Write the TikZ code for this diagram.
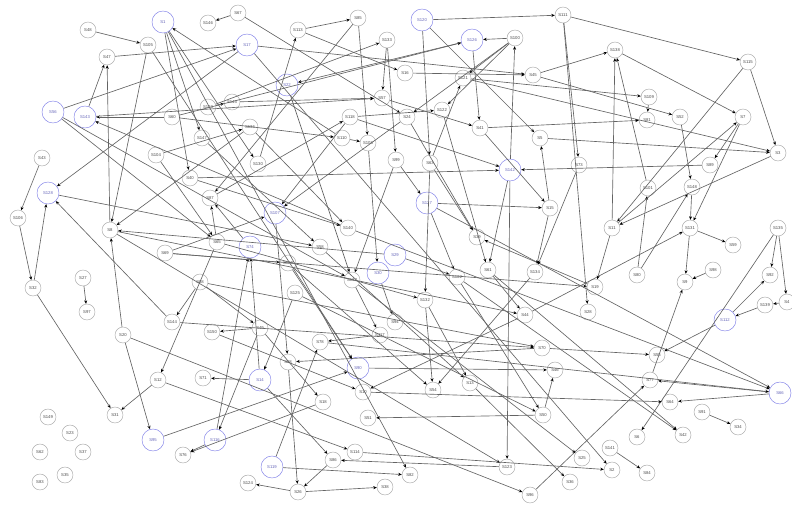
\documentclass[tikz,border=0pt]{standalone}
\usepackage{fontspec}
\setmainfont{Liberation Sans}
\usetikzlibrary{arrows.meta}
\definecolor{srcblue}{HTML}{8080E8}
\definecolor{linkgray}{HTML}{646464}

\begin{document}
\begin{tikzpicture}[
    x=0.03cm, y=-0.03cm,
    >={Stealth[length=3pt, width=2.6pt, color=black]},
    gn/.style={circle, draw=black!35, fill=white, text=black!70, minimum size=0.48cm, inner sep=0pt, font=\fontsize{3.6}{4}\selectfont},
    bn/.style={gn, draw=srcblue, text=srcblue!80!black, minimum size=0.66cm},
    lnk/.style={->, draw=linkgray, line width=0.55pt}
]
\useasboundingbox (0,0) rectangle (792,504);

% blue nodes
\foreach \n/\x/\y in {S1/163/22, S17/247/45, S22/287/85, S120/422/20, S126/472/40,
    S56/53/112, S143/85/117, S128/48/193, S107/275/213, S74/250/247,
    S127/427/203, S142/510/170, S29/395/255, S30/378/273, S112/725/320,
    S90/358/368, S14/260/380, S116/215/440, S95/153/440, S119/272/467, S66/780/393}
  \node[bn] (\n) at (\x,\y) {\n};

% grey nodes, top half
\foreach \n/\x/\y in {S48/88/30, S105/148/45, S47/107/57, S146/208/23, S67/238/13,
    S113/298/30, S85/358/18, S133/387/40, S100/515/38, S111/563/15, S138/615/50,
    S115/748/62, S16/405/73, S121/463/78, S45/533/75, S57/382/98, S109/649/97,
    S145/232/102, S103/208/107, S60/172/117, S118/350/117, S81/647/120, S52/680/117,
    S7/743/117, S24/407/117, S122/442/110, S41/480/128, S136/250/127, S110/342/138,
    S108/368/143, S147/202/138, S5/540/138, S3/778/153, S104/156/155, S43/42/158,
    S130/258/164, S63/430/163, S99/396/160, S73/579/165, S89/710/165, S40/190/178,
    S101/648/188, S148/692/187, S87/210/198, S106/18/218, S8/110/230, S69/165/253,
    S140/348/228, S65/217/242, S58/320/247, S129/288/263, S137/352/280, S125/295/293,
    S88/200/282, S15/550/208, S39/477/237, S61/488/270, S102/457/277, S134/535/272,
    S11/612/228, S131/690/228, S59/733/245, S135/778/228, S80/637/275, S98/713/270,
    S9/685/282, S92/770/275}
  \node[gn] (\n) at (\x,\y) {\n};

% grey nodes, bottom half
\foreach \n/\x/\y in {S49/260/328, S150/212/332, S132/425/300, S44/525/315, S94/395/322,
    S139/765/305, S4/787/302, S19/595/287, S28/588/312, S32/33/288, S27/83/278,
    S97/87/312, S144/172/322, S20/123/335, S12/158/380, S31/115/415, S149/48/417,
    S23/70/433, S62/40/452, S37/83/452, S35/65/475, S83/40/482, S76/183/455,
    S78/320/342, S117/380/335, S68/288/362, S71/203/378, S10/363/392, S18/323/402,
    S51/368/418, S114/355/452, S86/333/460, S124/248/483, S26/298/492, S38/385/487,
    S70/542/348, S46/555/370, S13/470/383, S54/433/390, S50/543/415, S123/507/467,
    S25/582/458, S82/410/475, S36/570/482, S96/530/495, S55/657/355, S77/650/380,
    S64/670/402, S91/702/412, S34/738/427, S6/637/437, S42/683/435, S141/610/448,
    S2/612/470, S84/647/473}
  \node[gn] (\n) at (\x,\y) {\n};

% links, left side
\foreach \a/\b in {S48/S105, S105/S8, S8/S47, S143/S47, S47/S17, S56/S17, S60/S143,
    S56/S65, S140/S143, S17/S128, S144/S128, S43/S106, S106/S32, S32/S128, S32/S31,
    S128/S58, S136/S8, S29/S8, S20/S8, S20/S95, S69/S107, S69/S129, S27/S97,
    S12/S31, S65/S12, S12/S114, S95/S90, S18/S76, S49/S150, S49/S116, S116/S76,
    S1/S40, S1/S147, S110/S1, S104/S136, S143/S57, S116/S74, S14/S74, S88/S49,
    S88/S144, S107/S68, S1/S82, S105/S90, S17/S2, S8/S123, S1/S130, S56/S137,
    S147/S58, S40/S140, S87/S118, S145/S57, S104/S65, S60/S110, S69/S19, S8/S44,
    S150/S10, S88/S70}
  \draw[lnk] (\a) -- (\b);

% links, middle
\foreach \a/\b in {S70/S68, S14/S71, S125/S14, S14/S86, S119/S78, S119/S82,
    S26/S124, S26/S38, S68/S26, S86/S26, S123/S86, S144/S70, S50/S46, S102/S50,
    S13/S36, S132/S13, S134/S54, S132/S54, S142/S123, S20/S96, S96/S77, S90/S46,
    S67/S146, S67/S24, S17/S45, S113/S85, S130/S113, S113/S16, S85/S87, S85/S108,
    S103/S133, S126/S22, S22/S137, S103/S145, S110/S108, S65/S87, S74/S87,
    S118/S107, S24/S107, S40/S142, S142/S61, S127/S15, S127/S102, S29/S102,
    S30/S94, S137/S117, S117/S78, S44/S10, S49/S18, S50/S51, S63/S132, S61/S44,
    S19/S39, S137/S25, S114/S2, S60/S126, S118/S122, S99/S127, S133/S99,
    S136/S140, S57/S41, S24/S39, S122/S61, S108/S30, S99/S137, S63/S39, S41/S15,
    S118/S142, S133/S57, S129/S54, S58/S13, S65/S132, S129/S90, S125/S50}
  \draw[lnk] (\a) -- (\b);

% links, right side
\foreach \a/\b in {S66/S77, S66/S64, S127/S66, S78/S66, S140/S66, S91/S34,
    S141/S84, S112/S55, S139/S112, S4/S139, S135/S92, S135/S4, S135/S6, S112/S92,
    S98/S9, S77/S9, S131/S9, S7/S131, S131/S59, S44/S131, S80/S101, S80/S148,
    S148/S131, S3/S11, S11/S138, S138/S7, S101/S138, S111/S115, S115/S3, S115/S11,
    S109/S81, S121/S109, S45/S52, S52/S148, S121/S3, S5/S3, S11/S7, S120/S111,
    S120/S63, S120/S5, S100/S126, S126/S41, S100/S122, S100/S24, S142/S100,
    S100/S121, S63/S121, S16/S45, S15/S5, S111/S73, S111/S28, S89/S142, S7/S89,
    S45/S138, S41/S81, S73/S134, S15/S134, S11/S19, S102/S42, S61/S42, S10/S64,
    S70/S55}
  \draw[lnk] (\a) -- (\b);

\end{tikzpicture}
\end{document}
